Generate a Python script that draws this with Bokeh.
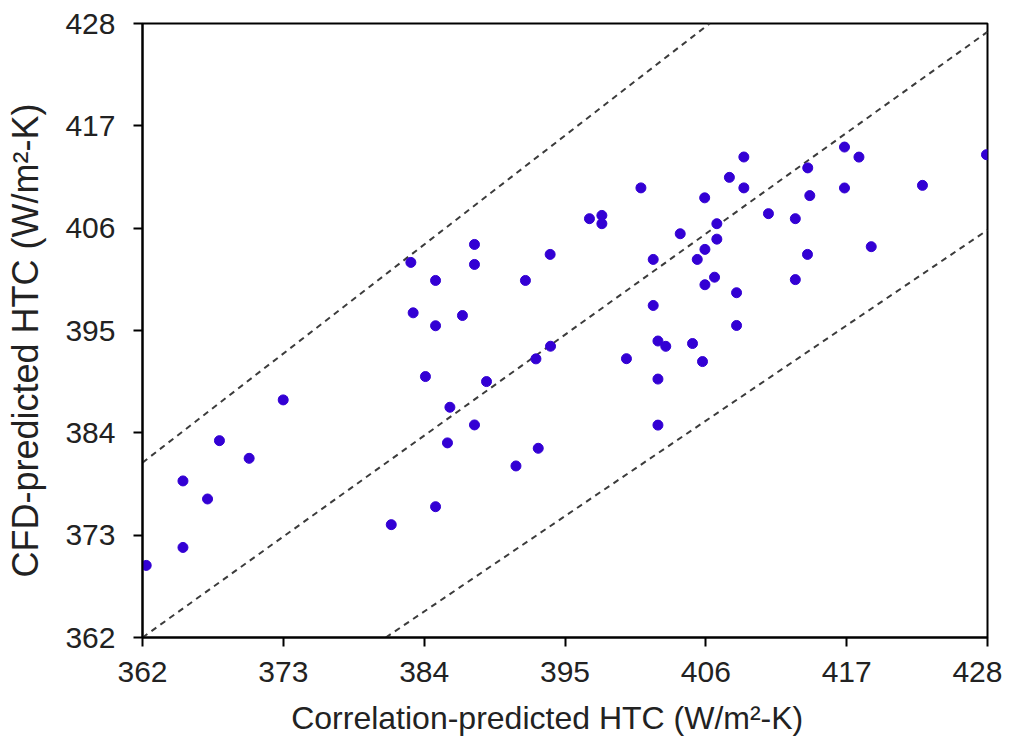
from bokeh.plotting import figure
from bokeh.models import Range1d, FixedTicker, ColumnDataSource
from bokeh.embed import file_html
from bokeh.resources import INLINE

# Correlation-predicted HTC (x) vs CFD-predicted HTC (y)
corr_htc = [362.29, 365.16, 365.16, 367.08, 368.01, 370.33, 372.99, 381.43, 382.96, 383.14,
            384.10, 384.89, 384.89, 384.89, 385.82, 386.01, 386.99, 387.93, 387.93, 387.93,
            388.87, 391.17, 391.91, 392.73, 392.91, 393.84, 393.87, 396.91, 397.88, 397.88,
            399.80, 400.93, 401.89, 401.89, 402.26, 402.26, 402.26, 402.87, 404.00, 404.96,
            405.33, 405.74, 405.91, 405.93, 405.93, 406.68, 406.86, 406.86, 407.84, 408.40,
            408.40, 408.97, 408.97, 410.89, 412.99, 412.99, 413.96, 413.94, 414.12, 416.83,
            416.83, 417.96, 418.92, 422.92, 427.92]
cfd_htc = [369.75, 378.83, 371.68, 376.89, 383.16, 381.26, 387.54, 374.13, 402.32, 396.90,
           390.05, 376.06, 400.38, 395.51, 382.92, 386.75, 396.61, 404.25, 402.10, 384.85,
           389.51, 380.44, 400.38, 391.95, 382.34, 403.18, 393.31, 407.02, 407.37, 406.48,
           391.97, 410.33, 397.69, 402.64, 393.87, 389.78, 384.83, 393.30, 405.40, 393.60,
           402.64, 391.66, 409.26, 399.92, 403.72, 400.73, 404.82, 406.48, 411.46, 399.06,
           395.54, 413.65, 410.33, 407.56, 400.47, 407.02, 412.48, 403.18, 409.50, 414.72,
           410.32, 413.64, 404.01, 410.60, 413.90]

# Reference lines (upper band, parity, lower band) as drawn in the picture
upper_x = [362.0, 406.3]
upper_y = [380.8, 428.0]
parity_x = [362.0, 428.0]
parity_y = [362.0, 427.1]
lower_x = [381.0, 428.0]
lower_y = [362.0, 405.8]

ticks = [362, 373, 384, 395, 406, 417, 428]

FONT = "Liberation Sans"
NBSP = "\u00a0"

p = figure(width=1002, height=745, output_backend="svg", toolbar_location=None,
           x_range=Range1d(362, 428), y_range=Range1d(362, 428),
           min_border_left=142, min_border_right=15, min_border_top=23, min_border_bottom=108)
p.background_fill_color = "white"
p.border_fill_color = "white"
p.grid.visible = False
p.outline_line_color = "black"
p.outline_line_width = 2
p.outline_line_alpha = 1

for lx, ly in ((upper_x, upper_y), (parity_x, parity_y), (lower_x, lower_y)):
    p.line(lx, ly, line_color="#3c3c3c", line_width=2, line_dash="6 5")

src = ColumnDataSource(dict(x=corr_htc, y=cfd_htc))
p.scatter("x", "y", source=src, size=10, fill_color="#3300d4", line_color="#3300d4")

for ax in (p.xaxis[0], p.yaxis[0]):
    ax.ticker = FixedTicker(ticks=ticks)
    ax.axis_line_color = "black"
    ax.axis_line_width = 2
    ax.major_tick_line_color = "black"
    ax.major_tick_line_width = 2
    ax.major_tick_out = 9
    ax.major_tick_in = 0
    ax.minor_tick_line_color = None
    ax.major_label_text_font = FONT
    ax.major_label_text_font_size = "30px"
    ax.major_label_text_color = "#222222"
    ax.axis_label_text_font = FONT
    ax.axis_label_text_font_style = "normal"
    ax.axis_label_text_color = "#222222"

p.xaxis.axis_label = "Correlation-predicted HTC (W/m²-K)" + NBSP * 4
p.yaxis.axis_label = "CFD-predicted HTC (W/m²-K)" + NBSP * 2
p.xaxis.axis_label_text_font_size = "32px"
p.yaxis.axis_label_text_font_size = "36px"
p.xaxis.major_label_standoff = 15
p.yaxis.major_label_standoff = 18
p.xaxis.axis_label_standoff = 15
p.yaxis.axis_label_standoff = 16

open("out.html", "w").write(file_html(p, INLINE))
